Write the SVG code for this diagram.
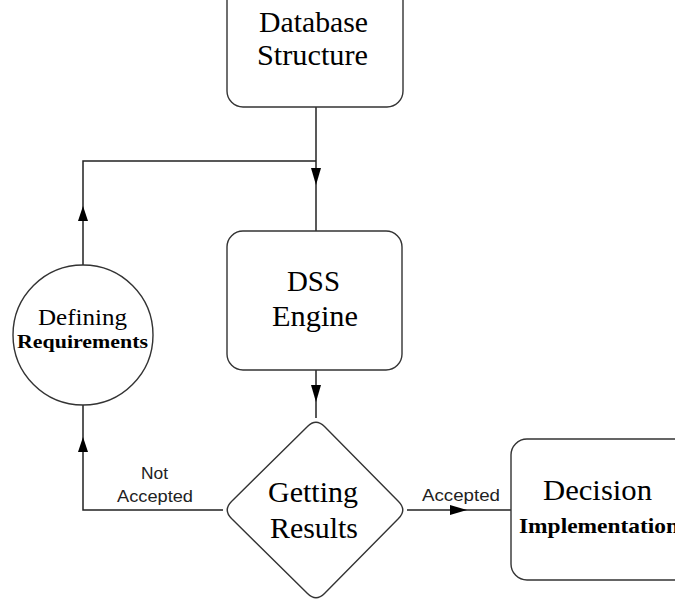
<svg xmlns="http://www.w3.org/2000/svg" width="675" height="602" viewBox="0 0 675 602">
<style>
.shape{fill:#fff;stroke:#333;stroke-width:1.4}
.line{fill:none;stroke:#222;stroke-width:1.5}
.arrow{fill:#000;stroke:none}
.t{font-family:'Liberation Serif','DejaVu Serif','Times New Roman',serif;font-size:30px;fill:#000}
.tb{font-family:'Liberation Serif','DejaVu Serif','Times New Roman',serif;font-weight:bold;fill:#000}
.lab{font-family:'Liberation Sans','DejaVu Sans',Arial,sans-serif;font-size:16px;fill:#222}
</style>
<rect width="675" height="602" fill="#fff"/>
<g id="connectors">
<polyline class="line" points="316,107 316,231"/>
<polyline class="line" points="316,161 83,161 83,265"/>
<polyline class="line" points="316,370 316,418"/>
<polyline class="line" points="83,405 83,510 223,510"/>
<polyline class="line" points="407,510 511,510"/>
<polygon class="arrow" points="311,168 321,168 316,185"/>
<polygon class="arrow" points="78,221 88,221 83,206"/>
<polygon class="arrow" points="311,385 321,385 316,402"/>
<polygon class="arrow" points="78,452 88,452 83,437"/>
<polygon class="arrow" points="450,505 450,515 467,510"/>
<text class="lab" x="141" y="479" textLength="27" lengthAdjust="spacingAndGlyphs">Not</text>
<text class="lab" x="117" y="502" textLength="76" lengthAdjust="spacingAndGlyphs">Accepted</text>
<text class="lab" x="422" y="501" textLength="78" lengthAdjust="spacingAndGlyphs">Accepted</text>
</g>
<g id="database-structure">
<rect class="shape" x="227" y="-20" width="176" height="127" rx="16"/>
<text class="t" x="259" y="32" textLength="109" lengthAdjust="spacingAndGlyphs">Database</text>
<text class="t" x="257" y="65" textLength="111" lengthAdjust="spacingAndGlyphs">Structure</text>
</g>
<g id="dss-engine">
<rect class="shape" x="227" y="231" width="175" height="139" rx="16"/>
<text class="t" x="287" y="291" textLength="53" lengthAdjust="spacingAndGlyphs">DSS</text>
<text class="t" x="272" y="326" textLength="86" lengthAdjust="spacingAndGlyphs">Engine</text>
</g>
<g id="defining-requirements">
<circle class="shape" cx="83" cy="335" r="70"/>
<text class="t" x="38" y="325" style="font-size:24px" textLength="89" lengthAdjust="spacingAndGlyphs">Defining</text>
<text class="tb" x="17" y="348" style="font-size:19px" textLength="131" lengthAdjust="spacingAndGlyphs">Requirements</text>
</g>
<g id="getting-results">
<path class="shape" d="M324.5,426.5 L398.5,501.5 Q407,510 398.5,518.5 L324.5,593.5 Q316,602 307.5,593.5 L231.5,518.5 Q223,510 231.5,501.5 L307.5,426.5 Q316,418 324.5,426.5 Z"/>
<text class="t" x="268" y="502" textLength="90" lengthAdjust="spacingAndGlyphs">Getting</text>
<text class="t" x="270" y="538" textLength="88" lengthAdjust="spacingAndGlyphs">Results</text>
</g>
<g id="decision-implementation">
<rect class="shape" x="511" y="439" width="180" height="141" rx="16"/>
<text class="t" x="543" y="500" textLength="109" lengthAdjust="spacingAndGlyphs">Decision</text>
<text class="tb" x="519" y="533" style="font-size:22px" textLength="160" lengthAdjust="spacingAndGlyphs">Implementation</text>
</g>
</svg>
